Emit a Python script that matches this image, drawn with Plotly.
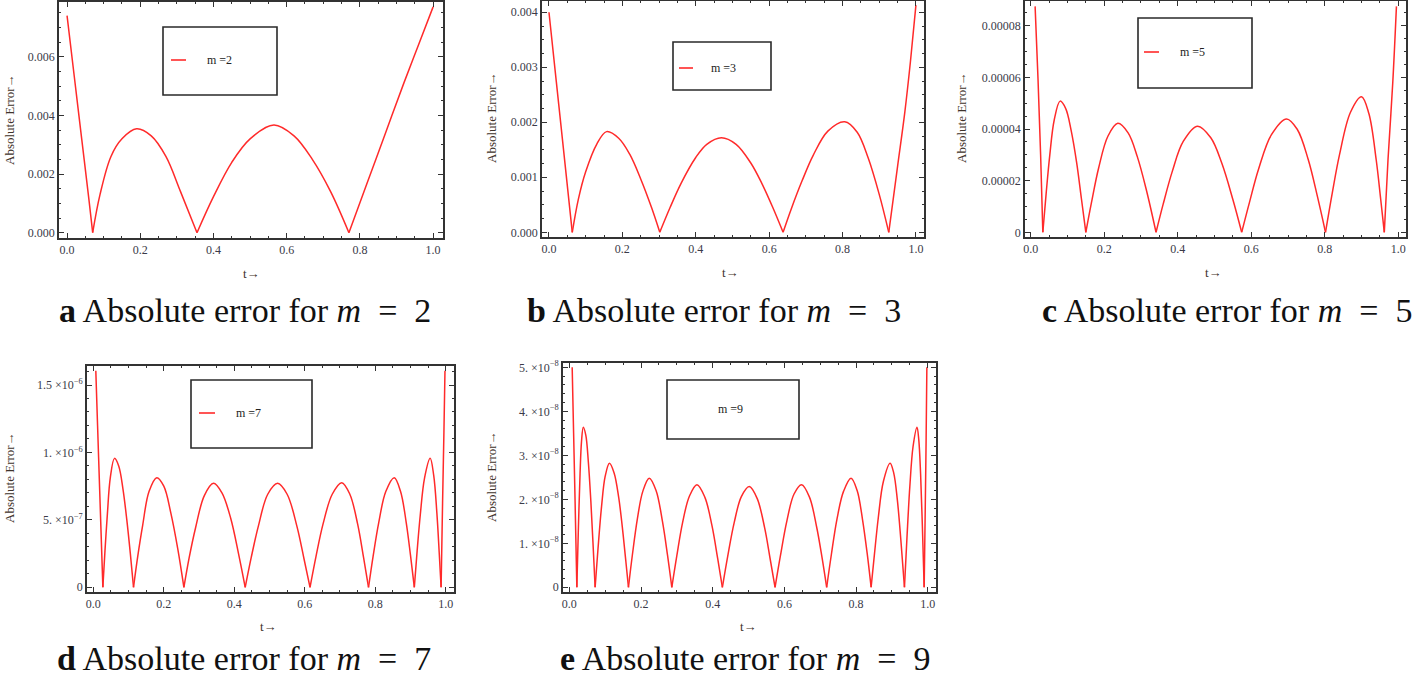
import plotly.graph_objects as go

# ---------------- data ----------------
t_m2 = [0.0, 0.02, 0.04, 0.06, 0.07, 0.09, 0.12, 0.15, 0.19, 0.23, 0.27, 0.31, 0.355,
        0.40, 0.45, 0.50, 0.565, 0.62, 0.67, 0.72, 0.77, 0.82, 0.87, 0.92, 0.96, 1.0]
err_m2 = [0.0074, 0.0053, 0.0032, 0.0011, 0.0, 0.0013, 0.0026, 0.0032, 0.00354, 0.0033, 0.0026,
          0.0014, 0.0, 0.00123, 0.0024, 0.0032, 0.00367, 0.0033, 0.0025, 0.0014, 0.0,
          0.0017, 0.0034, 0.0051, 0.0064, 0.0077]

t_m3 = [0.0, 0.02, 0.04, 0.0635, 0.08, 0.10, 0.13, 0.157, 0.19, 0.22, 0.25, 0.28, 0.302,
        0.33, 0.36, 0.40, 0.43, 0.47, 0.51, 0.55, 0.58, 0.61, 0.638,
        0.66, 0.69, 0.72, 0.76, 0.806, 0.84, 0.87, 0.90, 0.926, 0.95, 0.97, 0.985, 1.0]
err_m3 = [0.0040, 0.00274, 0.00148, 0.0, 0.0006, 0.0011, 0.0016, 0.00183, 0.00171, 0.00142, 0.00097, 0.00044, 0.0,
          0.00045, 0.00089, 0.00136, 0.0016, 0.00172, 0.0016, 0.00126, 0.00089, 0.00045, 0.0,
          0.00042, 0.00094, 0.0014, 0.00184, 0.00201, 0.00182, 0.00135, 0.00069, 0.0,
          0.0012, 0.0022, 0.0031, 0.00413]

t_m5 = [0.012, 0.02, 0.027, 0.033, 0.042, 0.052, 0.064, 0.080, 0.095, 0.110, 0.125, 0.138, 0.150,
        0.165, 0.185, 0.21, 0.237, 0.265, 0.29, 0.315, 0.341,
        0.36, 0.385, 0.415, 0.454, 0.49, 0.52, 0.55, 0.574,
        0.595, 0.62, 0.655, 0.696, 0.725, 0.755, 0.78, 0.802,
        0.82, 0.84, 0.87, 0.900, 0.92, 0.94, 0.952, 0.962, 0.972, 0.985, 0.995]
err_m5 = [8.75e-5, 5.9e-5, 3.0e-5, 0.0, 1.5e-5, 3.0e-5, 4.35e-5, 5.08e-5, 4.8e-5, 3.95e-5, 2.7e-5, 1.3e-5, 0.0,
          1.13e-5, 2.5e-5, 3.72e-5, 4.22e-5, 3.85e-5, 2.93e-5, 1.62e-5, 0.0,
          1.07e-5, 2.35e-5, 3.52e-5, 4.11e-5, 3.66e-5, 2.67e-5, 1.27e-5, 0.0,
          1.15e-5, 2.45e-5, 3.78e-5, 4.39e-5, 3.99e-5, 2.82e-5, 1.39e-5, 0.0,
          1.49e-5, 3.0e-5, 4.65e-5, 5.25e-5, 4.6e-5, 2.8e-5, 1.3e-5, 0.0, 2.8e-5, 5.8e-5, 8.75e-5]

t_m7 = [0.007, 0.012, 0.018, 0.023, 0.027,
        0.033, 0.040, 0.048, 0.060, 0.072, 0.084, 0.095, 0.105, 0.114,
        0.126, 0.140, 0.158, 0.180, 0.200, 0.220, 0.240, 0.257,
        0.272, 0.290, 0.315, 0.341, 0.365, 0.390, 0.412, 0.431,
        0.448, 0.468, 0.495, 0.523, 0.550, 0.578, 0.598, 0.615,
        0.632, 0.652, 0.678, 0.705, 0.728, 0.750, 0.767, 0.781,
        0.794, 0.810, 0.830, 0.854, 0.872, 0.888, 0.900, 0.911,
        0.919, 0.928, 0.940, 0.956, 0.966, 0.975, 0.982, 0.987,
        0.991, 0.995, 0.998]
err_m7 = [1.606e-6, 1.2e-6, 0.72e-6, 0.32e-6, 0.0,
          0.27e-6, 0.55e-6, 0.81e-6, 0.956e-6, 0.90e-6, 0.73e-6, 0.50e-6, 0.25e-6, 0.0,
          0.23e-6, 0.46e-6, 0.71e-6, 0.813e-6, 0.75e-6, 0.55e-6, 0.28e-6, 0.0,
          0.22e-6, 0.44e-6, 0.68e-6, 0.771e-6, 0.70e-6, 0.51e-6, 0.25e-6, 0.0,
          0.22e-6, 0.45e-6, 0.69e-6, 0.771e-6, 0.69e-6, 0.45e-6, 0.21e-6, 0.0,
          0.23e-6, 0.47e-6, 0.69e-6, 0.776e-6, 0.69e-6, 0.47e-6, 0.22e-6, 0.0,
          0.23e-6, 0.48e-6, 0.71e-6, 0.813e-6, 0.71e-6, 0.48e-6, 0.24e-6, 0.0,
          0.27e-6, 0.54e-6, 0.81e-6, 0.956e-6, 0.83e-6, 0.55e-6, 0.24e-6, 0.0,
          0.6e-6, 1.15e-6, 1.606e-6]

t_m9 = [0.008, 0.012, 0.016, 0.021,
        0.025, 0.030, 0.034, 0.039, 0.046, 0.053, 0.060, 0.066, 0.072,
        0.080, 0.090, 0.100, 0.112, 0.125, 0.138, 0.150, 0.158, 0.165,
        0.176, 0.190, 0.205, 0.223, 0.242, 0.260, 0.274, 0.286,
        0.300, 0.316, 0.335, 0.356, 0.378, 0.398, 0.414, 0.427,
        0.442, 0.460, 0.480, 0.502, 0.524, 0.545, 0.560, 0.574,
        0.589, 0.607, 0.627, 0.648, 0.670, 0.690, 0.705, 0.718,
        0.731, 0.747, 0.765, 0.786, 0.803, 0.818, 0.831, 0.842,
        0.851, 0.862, 0.876, 0.895, 0.905, 0.915, 0.925, 0.935,
        0.942, 0.950, 0.959, 0.970, 0.975, 0.980, 0.985, 0.990,
        0.993, 0.9955, 0.9975]
err_m9 = [5.0e-8, 3.5e-8, 2.0e-8, 0.0,
          1.24e-8, 2.58e-8, 3.31e-8, 3.64e-8, 3.46e-8, 2.86e-8, 1.97e-8, 1.02e-8, 0.0,
          0.87e-8, 1.84e-8, 2.52e-8, 2.82e-8, 2.6e-8, 2.03e-8, 1.21e-8, 0.57e-8, 0.0,
          0.74e-8, 1.56e-8, 2.18e-8, 2.48e-8, 2.2e-8, 1.49e-8, 0.73e-8, 0.0,
          0.72e-8, 1.47e-8, 2.07e-8, 2.33e-8, 2.05e-8, 1.4e-8, 0.65e-8, 0.0,
          0.71e-8, 1.47e-8, 2.06e-8, 2.29e-8, 2.02e-8, 1.35e-8, 0.66e-8, 0.0,
          0.72e-8, 1.51e-8, 2.12e-8, 2.33e-8, 2.05e-8, 1.37e-8, 0.68e-8, 0.0,
          0.74e-8, 1.56e-8, 2.18e-8, 2.48e-8, 2.2e-8, 1.54e-8, 0.77e-8, 0.0,
          0.73e-8, 1.58e-8, 2.4e-8, 2.82e-8, 2.6e-8, 2.0e-8, 1.07e-8, 0.0,
          1.13e-8, 2.29e-8, 3.2e-8, 3.64e-8, 3.35e-8, 2.58e-8, 1.38e-8, 0.0,
          1.8e-8, 3.4e-8, 5.0e-8]

xtick_vals = [0.0, 0.2, 0.4, 0.6, 0.8, 1.0]
xtick_text = ["0.0", "0.2", "0.4", "0.6", "0.8", "1.0"]

ytick_vals_m2 = [0.0, 0.002, 0.004, 0.006]
ytick_text_m2 = ["0.000", "0.002", "0.004", "0.006"]
ytick_vals_m3 = [0.0, 0.001, 0.002, 0.003, 0.004]
ytick_text_m3 = ["0.000", "0.001", "0.002", "0.003", "0.004"]
ytick_vals_m5 = [0.0, 2e-5, 4e-5, 6e-5, 8e-5]
ytick_text_m5 = ["0", "0.00002", "0.00004", "0.00006", "0.00008"]
ytick_vals_m7 = [0.0, 5e-7, 1e-6, 1.5e-6]
ytick_text_m7 = ["0", "5. ×10<sup>−7</sup>", "1. ×10<sup>−6</sup>", "1.5 ×10<sup>−6</sup>"]
ytick_vals_m9 = [0.0, 1e-8, 2e-8, 3e-8, 4e-8, 5e-8]
ytick_text_m9 = ["0", "1. ×10<sup>−8</sup>", "2. ×10<sup>−8</sup>", "3. ×10<sup>−8</sup>",
                 "4. ×10<sup>−8</sup>", "5. ×10<sup>−8</sup>"]

legend_labels = ["m =2", "m =3", "m =5", "m =7", "m =9"]
captions = ["<b>a</b> Absolute error for <i>m</i>  =  2",
            "<b>b</b> Absolute error for <i>m</i>  =  3",
            "<b>c</b> Absolute error for <i>m</i>  =  5",
            "<b>d</b> Absolute error for <i>m</i>  =  7",
            "<b>e</b> Absolute error for <i>m</i>  =  9"]
y_title = "Absolute Error→"
x_title = "t→"

# ---------------- layout (pixel geometry) ----------------
W, H = 1416, 679
RED = "#ff2a2a"
FRAME = "#333333"
TICKFONT = dict(family="Liberation Serif", size=12, color="#3a3a48")
TITLEFONT = dict(family="Liberation Serif", size=13, color="#3f332b")


def px(x):
    return x / W


def py(y):
    return 1 - y / H


def arches(ts, vs):
    """Split a curve at its zeros so each arch is drawn as its own smooth piece."""
    pieces, cur_t, cur_v = [], [], []
    for tt, vv in zip(ts, vs):
        cur_t.append(tt)
        cur_v.append(vv)
        if vv == 0 and len(cur_t) > 1:
            pieces.append((cur_t, cur_v))
            cur_t, cur_v = [tt], [vv]
    if len(cur_t) > 1:
        pieces.append((cur_t, cur_v))
    return pieces


panels = [
    dict(t=t_m2, e=err_m2, yv=ytick_vals_m2, yt=ytick_text_m2, frame=(59, 2, 443, 238),
         xr=(-0.022, 1.027), yr=(-0.000181, 0.007866), yminor=0.0005,
         leg=(163, 27, 277, 95), legline=(171, 186, 60), legtext=(219, 60),
         ytitle=(9, 120), xtitle=(251, 273), cap=(57, 311, "left", "middle")),
    dict(t=t_m3, e=err_m3, yv=ytick_vals_m3, yt=ytick_text_m3, frame=(542, 1, 924, 237),
         xr=(-0.019, 1.022), yr=(-0.0000855, 0.004205), yminor=0.00025,
         leg=(673, 42, 771, 90), legline=(679, 693, 68), legtext=(723, 68),
         ytitle=(491, 118), xtitle=(730, 272), cap=(525, 311, "left", "middle")),
    dict(t=t_m5, e=err_m5, yv=ytick_vals_m5, yt=ytick_text_m5, frame=(1025, 1, 1406, 237),
         xr=(-0.0155, 1.021), yr=(-0.00000182, 0.00008957), yminor=0.000005,
         leg=(1138, 18, 1252, 88), legline=(1144, 1159, 52), legtext=(1192, 52),
         ytitle=(961, 118), xtitle=(1213, 272), cap=(1414, 311, "right", "middle")),
    dict(t=t_m7, e=err_m7, yv=ytick_vals_m7, yt=ytick_text_m7, frame=(87, 366, 454, 592),
         xr=(-0.018, 1.0236), yr=(-0.0349e-6, 1.641e-6), yminor=1e-7,
         leg=(191, 380, 312, 448), legline=(199, 215, 413), legtext=(248, 413),
         ytitle=(9, 478), xtitle=(268, 626), cap=(55, 679, "left", "bottom")),
    dict(t=t_m9, e=err_m9, yv=ytick_vals_m9, yt=ytick_text_m9, frame=(563, 363, 936, 592),
         xr=(-0.0176, 1.023), yr=(-0.107e-8, 5.098e-8), yminor=0.2e-8,
         leg=(667, 380, 799, 439), legline=None, legtext=(730, 409),
         ytitle=(492, 477), xtitle=(748, 626), cap=(558, 679, "left", "bottom")),
]

fig = go.Figure()
shapes = []
annotations = []
layout = {}

for i, p in enumerate(panels):
    n = "" if i == 0 else str(i + 1)
    xid, yid = "x" + n, "y" + n
    for seg_t, seg_v in arches(p["t"], p["e"]):
        fig.add_trace(go.Scatter(x=seg_t, y=seg_v, mode="lines", xaxis=xid, yaxis=yid,
                                 line=dict(color=RED, width=1.5, shape="spline", smoothing=1.0),
                                 showlegend=False, hoverinfo="skip"))
    x0, y0, x1, y1 = p["frame"]
    common = dict(showline=True, linecolor=FRAME, linewidth=1.6, mirror="ticks",
                  ticks="inside", ticklen=5, tickwidth=1, tickcolor=FRAME,
                  showgrid=False, zeroline=False, tickfont=TICKFONT,
                  automargin=False, fixedrange=True, tickmode="array")
    layout["xaxis" + n] = dict(common, domain=[px(x0), px(x1)], range=list(p["xr"]),
                               anchor=yid, tickvals=xtick_vals, ticktext=xtick_text,
                               minor=dict(tickmode="linear", tick0=0, dtick=0.05, ticks="inside",
                                          ticklen=2.5, tickcolor=FRAME, showgrid=False))
    layout["yaxis" + n] = dict(common, domain=[py(y1), py(y0)], range=list(p["yr"]),
                               anchor=xid, tickvals=p["yv"], ticktext=p["yt"],
                               minor=dict(tickmode="linear", tick0=0, dtick=p["yminor"],
                                          ticks="inside", ticklen=2.5, tickcolor=FRAME,
                                          showgrid=False))
    # legend box
    lx0, ly0, lx1, ly1 = p["leg"]
    shapes.append(dict(type="rect", xref="paper", yref="paper", x0=px(lx0), x1=px(lx1),
                       y0=py(ly1), y1=py(ly0), line=dict(color="#2a2a2a", width=1.6),
                       fillcolor="rgba(255,255,255,0)"))
    if p["legline"] is not None:
        a, b, yy = p["legline"]
        shapes.append(dict(type="line", xref="paper", yref="paper", x0=px(a), x1=px(b),
                           y0=py(yy), y1=py(yy), line=dict(color=RED, width=1.6)))
    tx, ty = p["legtext"]
    annotations.append(dict(xref="paper", yref="paper", x=px(tx), y=py(ty), text=legend_labels[i],
                            showarrow=False, xanchor="center", yanchor="middle",
                            font=dict(family="Liberation Serif", size=12, color="#222222")))
    # axis titles
    ax_, ay_ = p["ytitle"]
    annotations.append(dict(xref="paper", yref="paper", x=px(ax_), y=py(ay_), text=y_title,
                            textangle=-90, showarrow=False, xanchor="center", yanchor="middle",
                            font=TITLEFONT))
    bx_, by_ = p["xtitle"]
    annotations.append(dict(xref="paper", yref="paper", x=px(bx_), y=py(by_), text=x_title,
                            showarrow=False, xanchor="center", yanchor="middle",
                            font=TITLEFONT))
    # caption
    cx, cy, anc, vanc = p["cap"]
    annotations.append(dict(xref="paper", yref="paper", x=px(cx), y=py(cy), text=captions[i],
                            showarrow=False, xanchor=anc, yanchor=vanc,
                            font=dict(family="Liberation Serif", size=34, color="#111111")))

fig.update_layout(
    width=W, height=H, margin=dict(l=0, r=0, t=0, b=0),
    paper_bgcolor="white", plot_bgcolor="white",
    shapes=shapes, annotations=annotations, showlegend=False,
    **layout,
)

fig.write_html("out.html", config={"displayModeBar": False},
               post_script="document.body.style.margin='0';document.body.style.overflow='hidden';")
